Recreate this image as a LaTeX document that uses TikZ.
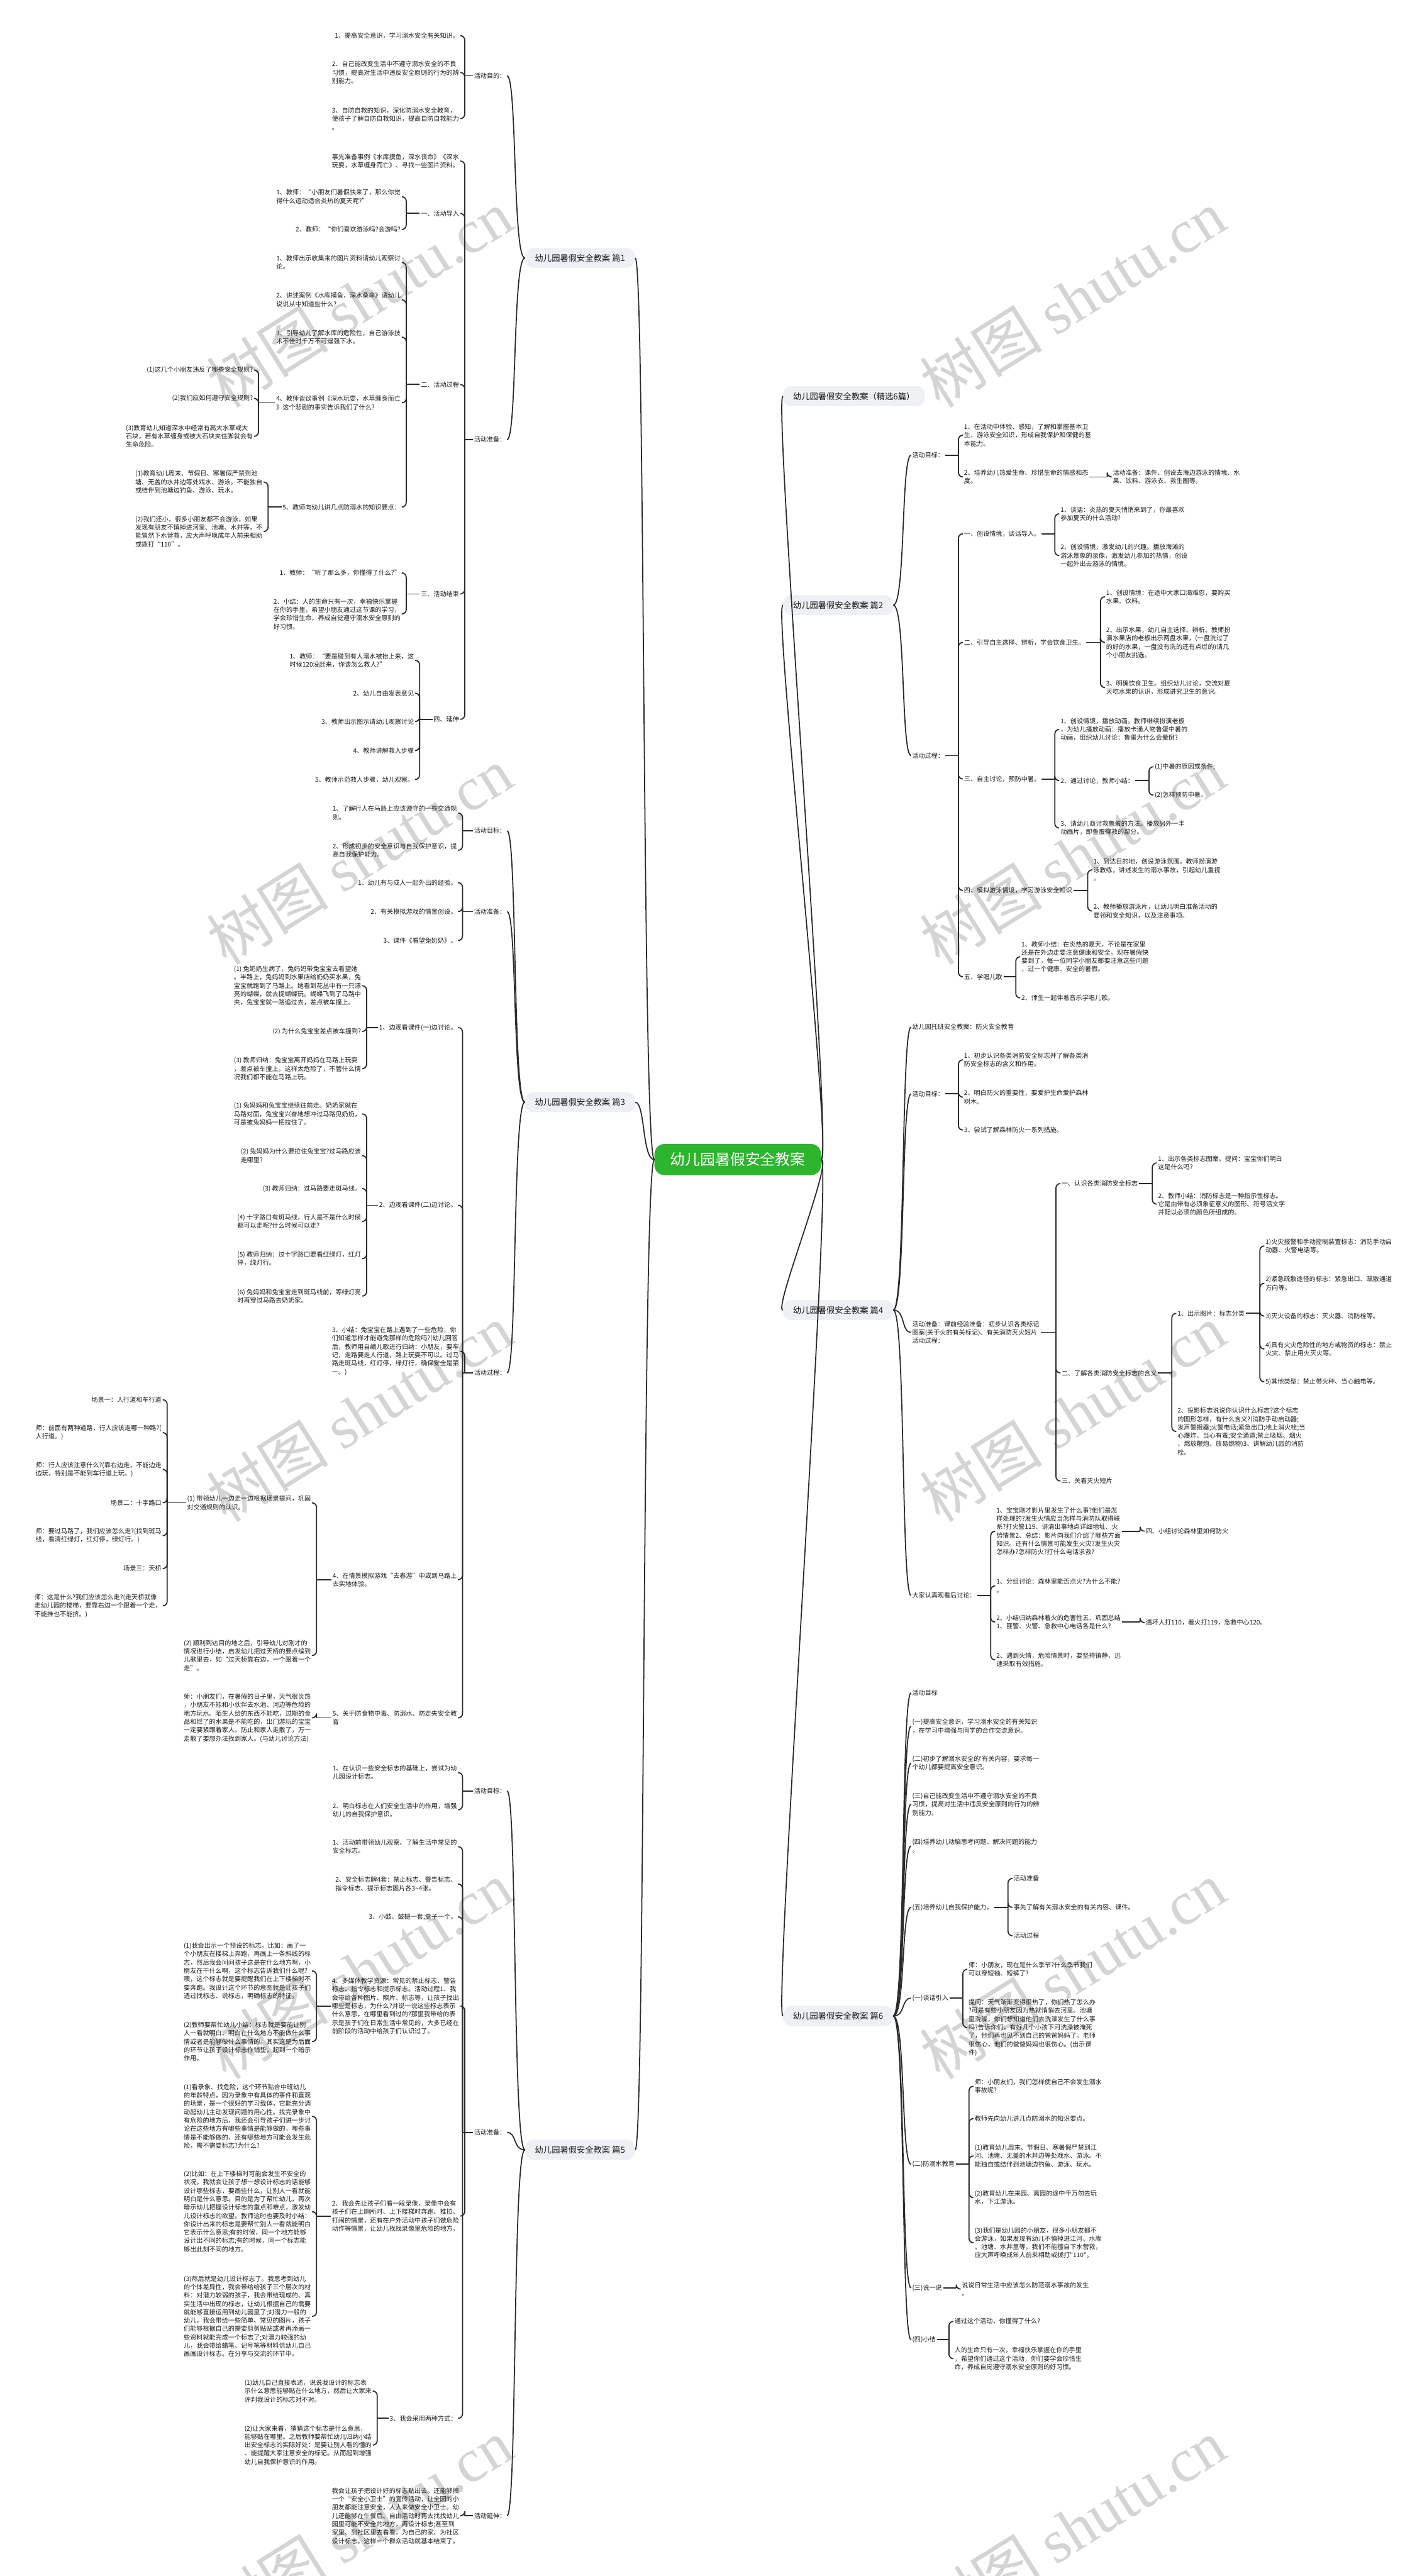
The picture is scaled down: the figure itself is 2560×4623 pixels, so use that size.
\documentclass[tikz,border=0pt]{standalone}
\usepackage{fontspec}
\newfontfamily\cjk{Noto Sans CJK SC}
\newfontfamily\wmlat{Liberation Serif}
\usetikzlibrary{calc}
\definecolor{lvone}{HTML}{EEF0F3}
\definecolor{rootg}{HTML}{2EB52E}
\definecolor{ln}{HTML}{2B2B2B}
\tikzset{
  txt/.style={font=\cjk\fontsize{11.4}{15}\selectfont, align=left, inner sep=2pt, text=black!90},
  L/.style={txt, anchor=east},
  R/.style={txt, anchor=west},
  lvl/.style={font=\cjk\fontsize{15}{18}\selectfont, fill=lvone, rounded corners=15pt, inner xsep=18pt, inner ysep=0pt, minimum height=36pt, text=black!90},
  lvlL/.style={lvl, anchor=east},
  lvlR/.style={lvl, anchor=west},
  root/.style={font=\cjk\fontsize{27}{30}\selectfont, fill=rootg, text=white, rounded corners=18pt, inner xsep=28pt, inner ysep=0pt, minimum height=56pt},
  conn/.style={draw=ln, line width=2pt},
  wm/.style={rotate=32, text=black!17, font=\cjk\fontsize{110}{120}\selectfont, inner sep=0pt}
}
\newcommand\BL[2]{\foreach \c in {#2}{%
  \path let \p1=(#1.west), \p2=(\c.east) in (\x2+8pt,\y1) coordinate (bls);
  \draw[conn] (#1.west) -- (bls);
  \draw[conn,rounded corners=8pt] (bls) |- (\c.east);}}
\newcommand\BR[2]{\foreach \c in {#2}{%
  \path let \p1=(#1.east), \p2=(\c.west) in (\x2-8pt,\y1) coordinate (brs);
  \draw[conn] (#1.east) -- (brs);
  \draw[conn,rounded corners=8pt] (brs) |- (\c.west);}}
\newcommand\CL[2]{\foreach \c in {#2}{%
  \draw[conn] (#1.west) .. controls ($(#1.west)+(-22,0)$) and ($(\c.east)+(18,0)$) .. (\c.east);}}
\newcommand\CR[2]{\foreach \c in {#2}{%
  \draw[conn] (#1.east) .. controls ($(#1.east)+(22,0)$) and ($(\c.west)+(-18,0)$) .. (\c.west);}}
\begin{document}
\begin{tikzpicture}[x=1pt,y=-1pt]
\fill[white] (0,0) rectangle (2560,4623);
\path[use as bounding box] (0,0) rectangle (2560,4623);
% watermarks
\foreach \yy in {536,1536,2536,3536,4536}{
  \node[wm] at (645,\yy) {树图 {\wmlat shutu.cn}};
  \node[wm] at (1925,\yy) {树图 {\wmlat shutu.cn}};
}
% root and level 1
\node[root] (root) at (1324,2081) {幼儿园暑假安全教案};
\node[lvlL] (P1) at (1140,463) {幼儿园暑假安全教案 篇1};
\node[lvlL] (P3) at (1140,1978) {幼儿园暑假安全教案 篇3};
\node[lvlL] (P5) at (1140,3858) {幼儿园暑假安全教案 篇5};
\node[lvlR] (P0) at (1405,711) {幼儿园暑假安全教案（精选6篇）};
\node[lvlR] (P2) at (1405,1086) {幼儿园暑假安全教案 篇2};
\node[lvlR] (P4) at (1405,2351) {幼儿园暑假安全教案 篇4};
\node[lvlR] (P6) at (1405,3618) {幼儿园暑假安全教案 篇6};
\CL{root}{P1,P3,P5}
\CR{root}{P0,P2,P4,P6}

% ================= 篇1 =================
\node[L] (a1) at (910,136) {活动目的：};
\node[L] (a2) at (910,789) {活动准备：};
\CL{P1}{a1,a2}
\node[L] (a1a) at (826,64) {1、提高安全意识，学习溺水安全有关知识。};
\node[L] (a1b) at (826,130) {2、自己能改变生活中不遵守溺水安全的不良\\习惯，提高对生活中违反安全原则的行为的辨\\别能力。};
\node[L] (a1c) at (826,213) {3、自防自救的知识，深化防溺水安全教育，\\使孩子了解自防自救知识，提高自防自救能力\\。};
\BL{a1}{a1a,a1b,a1c}
\node[L] (d1) at (826,289) {事先准备事例《水库摸鱼，深水丧命》《深水\\玩耍，水草缠身而亡》、寻找一些图片资料。};
\node[L] (d2) at (826,383) {一、活动导入};
\node[L] (d3) at (826,690) {二、活动过程};
\node[L] (d4) at (826,1066) {三、活动结束};
\node[L] (d5) at (826,1291) {四、延伸};
\BL{a2}{d1,d2,d3,d4,d5}
\node[L] (d2a) at (721,353) {1、教师：“小朋友们暑假快来了，那么你觉\\得什么运动适合炎热的夏天呢?”};
\node[L] (d2b) at (721,412) {2、教师：“你们喜欢游泳吗?会游吗?};
\BL{d2}{d2a,d2b}
\node[L] (d3a) at (721,471) {1、教师出示收集来的图片资料请幼儿观察讨\\论。};
\node[L] (d3b) at (721,538) {2、讲述案例《水库摸鱼，深水桑命》请幼儿\\说说从中知道些什么?};
\node[L] (d3c) at (721,605) {3、引导幼儿了解水库的危险性，自己游泳技\\术不佳时千万不可逞强下水。};
\node[L] (d3d) at (721,723) {4、教师谈谈事例《深水玩耍，水草缠身而亡\\》这个悲剧的事实告诉我们了什么?};
\node[L] (d3e) at (721,910) {5、教师向幼儿讲几点防溺水的知识要点：};
\BL{d3}{d3a,d3b,d3c,d3d,d3e}
\node[L] (d3d1) at (456,664) {(1)这几个小朋友违反了哪些安全规则?};
\node[L] (d3d2) at (456,715) {(2)我们应如何遵守安全规则?};
\node[L] (d3d3) at (456,783) {(3)教育幼儿知道深水中经常有高大水草或大\\石块，若有水草缠身或被大石块夹住脚就会有\\生命危险。};
\BL{d3d}{d3d1,d3d2,d3d3}
\node[L] (d3e1) at (473,865) {(1)教育幼儿周末、节假日、寒暑假严禁到池\\塘、无盖的水井边等处戏水、游泳。不能独自\\或结伴到池塘边钓鱼、游泳、玩水。};
\node[L] (d3e2) at (473,954) {(2)我们还小，很多小朋友都不会游泳，如果\\发现有朋友不慎掉进河里、池塘、水井等，不\\能冒然下水营救，应大声呼唤成年人前来相助\\或拨打“110”。};
\BL{d3e}{d3e1,d3e2}
\node[L] (d4a) at (721,1028) {1、教师：“听了那么多，你懂得了什么?”};
\node[L] (d4b) at (721,1102) {2、小结：人的生命只有一次，幸福快乐掌握\\在你的手里，希望小朋友通过这节课的学习，\\学会珍惜生命，养成自觉遵守溺水安全原则的\\好习惯。};
\BL{d4}{d4a,d4b}
\node[L] (d5a) at (745,1185) {1、教师：“要是碰到有人溺水被抬上来，这\\时候120没赶来，你该怎么救人?”};
\node[L] (d5b) at (745,1244) {2、幼儿自由发表意见};
\node[L] (d5c) at (745,1295) {3、教师出示图示请幼儿观察讨论};
\node[L] (d5d) at (745,1347) {4、教师讲解救人步骤};
\node[L] (d5e) at (745,1399) {5、教师示范救人步骤，幼儿观察。};
\BL{d5}{d5a,d5b,d5c,d5d,d5e}

% ================= 篇3 =================
\node[L] (q1) at (910,1491) {活动目标：};
\node[L] (q2) at (910,1636) {活动准备：};
\node[L] (q3) at (910,2464) {活动过程：};
\CL{P3}{q1,q2,q3}
\node[L] (q1a) at (822,1459) {1、了解行人在马路上应该遵守的一些交通规\\则。};
\node[L] (q1b) at (822,1526) {2、形成初步的安全意识与自我保护意识，提\\高自我保护能力。};
\BL{q1}{q1a,q1b}
\node[L] (q2a) at (822,1584) {1、幼儿有与成人一起外出的经验。};
\node[L] (q2b) at (822,1636) {2、有关模拟游戏的情景创设。};
\node[L] (q2c) at (822,1688) {3、课件《看望兔奶奶》。};
\BL{q2}{q2a,q2b,q2c}
\node[L] (q3a) at (822,1844) {1、边观看课件(一)边讨论。};
\node[L] (q3b) at (822,2163) {2、边观看课件(二)边讨论。};
\node[L] (q3c) at (826,2425) {3、小结：兔宝宝在路上遇到了一些危险，你\\们知道怎样才能避免那样的危险吗?(幼儿回答\\后，教师用自编儿歌进行归纳：小朋友，要牢\\记，走路要走人行道，路上玩耍不可以。过马\\路走斑马线，红灯停，绿灯行，确保安全是第\\一。)};
\node[L] (q3d) at (822,2835) {4、在情景模拟游戏“去春游”中或到马路上\\去实地体验。};
\node[L] (q3e) at (822,3083) {5、关于防食物中毒、防溺水、防走失安全教\\育};
\BL{q3}{q3a,q3b,q3c,q3d,q3e}
\node[L] (q3a1) at (650,1769) {(1) 兔奶奶生病了，兔妈妈带兔宝宝去看望她\\。半路上，兔妈妈到水果店给奶奶买水果，兔\\宝宝就跑到了马路上。她看到花丛中有一只漂\\亮的蝴蝶，就去捉蝴蝶玩。蝴蝶飞到了马路中\\央，兔宝宝就一路追过去，差点被车撞上。};
\node[L] (q3a2) at (650,1851) {(2) 为什么兔宝宝差点被车撞到?};
\node[L] (q3a3) at (650,1918) {(3) 教师归纳：兔宝宝离开妈妈在马路上玩耍\\，差点被车撞上。这样太危险了，不管什么情\\况我们都不能在马路上玩。};
\BL{q3a}{q3a1,q3a2,q3a3}
\node[L] (q3b1) at (650,1999) {(1) 兔妈妈和兔宝宝继续往前走。奶奶家就在\\马路对面，兔宝宝兴奋地想冲过马路见奶奶，\\可是被兔妈妈一把拉住了。};
\node[L] (q3b2) at (650,2074) {(2) 兔妈妈为什么要拉住兔宝宝?过马路应该\\走哪里?};
\node[L] (q3b3) at (650,2133) {(3) 教师归纳：过马路要走斑马线。};
\node[L] (q3b4) at (650,2192) {(4) 十字路口有斑马线，行人是不是什么时候\\都可以走呢?什么时候可以走?};
\node[L] (q3b5) at (650,2259) {(5) 教师归纳：过十字路口要看红绿灯，红灯\\停，绿灯行。};
\node[L] (q3b6) at (650,2326) {(6) 兔妈妈和兔宝宝走到斑马线前，等绿灯亮\\时再穿过马路去奶奶家。};
\BL{q3b}{q3b1,q3b2,q3b3,q3b4,q3b5,q3b6}
\node[L] (q3d1) at (560,2697) {(1) 带领幼儿一边走一边根据场景提问，巩固\\对交通规则的认识。};
\node[L] (q3d2) at (560,2971) {(2) 顺利到达目的地之后，引导幼儿对刚才的\\情况进行小结，启发幼儿把过天桥的要点编到\\儿歌里去，如“过天桥靠右边，一个跟着一个\\走”。};
\BL{q3d}{q3d1,q3d2}
\node[L] (s1) at (292,2512) {场景一：人行道和车行道};
\node[L] (s2) at (292,2571) {师：前面有两种道路，行人应该走哪一种路?(\\人行道。)};
\node[L] (s3) at (292,2637) {师：行人应该注意什么?(靠右边走，不能边走\\边玩，特别是不能到车行道上玩。)};
\node[L] (s4) at (292,2697) {场景二：十字路口};
\node[L] (s5) at (292,2756) {师：要过马路了，我们应该怎么走?(找到斑马\\线，看清红绿灯，红灯停，绿灯行。)};
\node[L] (s6) at (292,2815) {场景三：天桥};
\node[L] (s7) at (292,2882) {师：这是什么?我们应该怎么走?(走天桥就像\\走幼儿园的楼梯，要靠右边一个跟着一个走，\\不能推也不能挤。)};
\BL{q3d1}{s1,s2,s3,s4,s5,s6,s7}
\node[L] (q3e1) at (560,3083) {师：小朋友们，在暑假的日子里，天气很炎热\\，小朋友不能和小伙伴去水池、河边等危险的\\地方玩水。陌生人给的东西不能吃，过期的食\\品和烂了的水果是不能吃的，出门游玩的宝宝\\一定要紧跟着家人。防止和家人走散了，万一\\走散了要想办法找到家人。(与幼儿讨论方法)};
\BL{q3e}{q3e1}

% ================= 篇5 =================
\node[L] (r1) at (910,3214) {活动目标：};
\node[L] (r2) at (910,3827) {活动准备：};
\node[L] (r3) at (910,4515) {活动延伸：};
\CL{P5}{r1,r2,r3}
\node[L] (r1a) at (822,3181) {1、在认识一些安全标志的基础上，尝试为幼\\儿园设计标志。};
\node[L] (r1b) at (822,3248) {2、明白标志在人们安全生活中的作用，增强\\幼儿的自我保护意识。};
\BL{r1}{r1a,r1b}
\node[L] (r2a) at (822,3314) {1、活动前带领幼儿观察、了解生活中常见的\\安全标志。};
\node[L] (r2b) at (822,3381) {2、安全标志牌4套：禁止标志、警告标志、\\指令标志、提示标志图片各3\textasciitilde4张。};
\node[L] (r2c) at (822,3440) {3、小鼓、鼓槌一套;盒子一个。};
\node[L] (r2d) at (826,3600) {4、多媒体教学资源：常见的禁止标志、警告\\标志、指令标志和提示标志。活动过程1、我\\会带给各种图片、照片、标志等，让孩子找出\\哪些是标志，为什么?并说一说这些标志表示\\什么意思，在哪里看到过的?那里我带给的表\\示是孩子们在日常生活中常见的，大多已经在\\前阶段的活动中给孩子们认识过了。};
\node[L] (r2e) at (826,3977) {2、我会先让孩子们看一段录像，录像中会有\\孩子们在上厕所时、上下楼梯时奔跑、推拉、\\打闹的情景，还有在户外活动中孩子们做危险\\动作等情景，让幼儿找找录像里危险的地方。};
\node[L] (r2f) at (822,4340) {3、我会采用两种方式：};
\BL{r2}{r2a,r2b,r2c,r2d,r2e,r2f}
\node[L] (r2d1) at (560,3537) {(1)我会出示一个预设的标志，比如：画了一\\个小朋友在楼梯上奔跑，再画上一条斜线的标\\志，然后我会问问孩子这是在什么地方啊，小\\朋友在干什么啊，这个标志告诉我们什么呢?\\噢，这个标志就是要提醒我们在上下楼梯时不\\要奔跑。我设计这个环节的意图就是让孩子们\\透过找标志、说标志，明确标志的特征。};
\node[L] (r2d2) at (560,3664) {(2)教师要帮忙幼儿小结：标志就是要能让别\\人一看就明白、明白在什么地方不能做什么事\\情或者是能够做什么事情的。其实这是为后面\\的环节让孩子设计标志作铺垫，起到一个暗示\\作用。};
\BL{r2d}{r2d1,r2d2}
\node[L] (r2e1) at (560,3798) {(1)看录象、找危险，这个环节贴合中班幼儿\\的年龄特点，因为录象中有具体的事件和直观\\的场景，是一个很好的学习载体，它能充分调\\动起幼儿主动发现问题的用心性。找完录象中\\有危险的地方后，我还会引导孩子们进一步讨\\论在这些地方有哪些事情是能够做的，哪些事\\情是不能够做的，还有哪些地方可能会发生危\\险，需不需要标志?为什么?};
\node[L] (r2e2) at (560,3969) {(2)比如：在上下楼梯时可能会发生不安全的\\状况，我就会让孩子想一想设计标志的话能够\\设计哪些标志，要画些什么，让别人一看就能\\明白是什么意思。目的是为了帮忙幼儿，再次\\暗示幼儿把握设计标志的重点和难点，激发幼\\儿设计标志的欲望。教师这时也要及时小结：\\你设计出来的标志是要帮忙别人一看就能明白\\它表示什么意思;有的时候，同一个地方能够\\设计出不同的标志;有的时候，同一个标志能\\够出此刻不同的地方。};
\node[L] (r2e3) at (560,4157) {(3)然后就是幼儿设计标志了。我思考到幼儿\\的个体差异性，我会带给给孩子三个层次的材\\料：对潜力较弱的孩子，我会带给现成的、真\\实生活中出现的标志，让幼儿根据自己的需要\\就能够直接运用到幼儿园里了;对潜力一般的\\幼儿，我会带给一些简单、常见的图片，孩子\\们能够根据自己的需要剪剪贴贴或者再添画一\\些资料就能完成一个标志了;对潜力较强的幼\\儿，我会带给蜡笔、记号笔等材料供幼儿自己\\画画设计标志。在分享与交流的环节中。};
\BL{r2e}{r2e1,r2e2,r2e3}
\node[L] (r2f1) at (669,4291) {(1)幼儿自己直接表述，说说我设计的标志表\\示什么意思能够贴在什么地方，然后让大家来\\评判我设计的标志对不对。};
\node[L] (r2f2) at (669,4388) {(2)让大家来看，猜猜这个标志是什么意思，\\能够贴在哪里。之后教师要帮忙幼儿归纳小结\\出安全标志的实际好处：是要让别人看的懂的\\、能提醒大家注意安全的标记。从而起到增强\\幼儿自我保护意识的作用。};
\BL{r2f}{r2f1,r2f2}
\node[L] (r3a) at (826,4515) {我会让孩子把设计好的标志贴出去。还能够搞\\一个“安全小卫士”的宣传活动，让全园的小\\朋友都能注意安全，人人来做安全小卫士。幼\\儿还能够在午餐后、自由活动时再去找找幼儿\\园里可能不安全的地方，再设计标志;甚至到\\家里、到社区里去看看，为自己的家、为社区\\设计标志。这样一个群众活动就基本结束了。};
\BL{r3}{r3a}

% ================= 篇2 =================
\node[R] (b1) at (1635,817) {活动目标：};
\node[R] (b2) at (1635,1356) {活动过程：};
\CR{P2}{b1,b2}
\node[R] (b1a) at (1728,781) {1、在活动中体验、感知，了解和掌握基本卫\\生、游泳安全知识，形成自我保护和保健的基\\本能力。};
\node[R] (b1b) at (1728,856) {2、培养幼儿热爱生命、珍惜生命的情感和态\\度。};
\BR{b1}{b1a,b1b}
\node[R] (b1b1) at (1995,856) {活动准备：课件、创设去海边游泳的情境、水\\果、饮料、游泳衣、救生圈等。};
\BR{b1b}{b1b1}
\node[R] (e1) at (1728,958) {一、创设情境，谈话导入。};
\node[R] (e2) at (1728,1153) {二、引导自主选择、辨析，学会饮食卫生。};
\node[R] (e3) at (1728,1398) {三、自主讨论，预防中暑。};
\node[R] (e4) at (1728,1598) {四、模拟游泳情境，学习游泳安全知识};
\node[R] (e5) at (1728,1753) {五、学唱儿歌};
\BR{b2}{e1,e2,e3,e4,e5}
\node[R] (e1a) at (1901,922) {1、谈话：炎热的夏天悄悄来到了，你最喜欢\\参加夏天的什么活动?};
\node[R] (e1b) at (1901,997) {2、创设情境，激发幼儿的兴趣。播放海滩的\\游泳景象的录像，激发幼儿参加的热情，创设\\一起外出去游泳的情境。};
\BR{e1}{e1a,e1b}
\node[R] (e2a) at (1983,1071) {1、创设情境：在途中大家口渴难忍，要购买\\水果、饮料。};
\node[R] (e2b) at (1983,1153) {2、出示水果，幼儿自主选择、辨析。教师扮\\演水果店的老板出示两盘水果，(一盘洗过了\\的好的水果，一盘没有洗的还有点烂的)请几\\个小朋友挑选。};
\node[R] (e2c) at (1983,1234) {3、明确饮食卫生。组织幼儿讨论，交流对夏\\天吃水果的认识，形成讲究卫生的意识。};
\BR{e2}{e2a,e2b,e2c}
\node[R] (e3a) at (1901,1309) {1、创设情境，播放动画。教师继续扮演老板\\，为幼儿播放动画：播放卡通人物鲁蛋中暑的\\动画，组织幼儿讨论：鲁蛋为什么会晕倒?};
\node[R] (e3b) at (1901,1401) {2、通过讨论，教师小结：};
\node[R] (e3c) at (1901,1486) {3、请幼儿商讨救鲁蛋的方法。播放另外一半\\动画片，即鲁蛋得救的部分。};
\BR{e3}{e3a,e3b,e3c}
\node[R] (e3b1) at (2070,1376) {(1)中暑的原因或条件;};
\node[R] (e3b2) at (2070,1427) {(2)怎样预防中暑。};
\BR{e3b}{e3b1,e3b2}
\node[R] (e4a) at (1960,1561) {1、到达目的地，创设游泳氛围。教师扮演游\\泳教练，讲述发生的溺水事故，引起幼儿重视\\。};
\node[R] (e4b) at (1960,1635) {2、教师播放游泳片，让幼儿明白准备活动的\\要领和安全知识，以及注意事项。};
\BR{e4}{e4a,e4b}
\node[R] (e5a) at (1831,1717) {1、教师小结：在炎热的夏天，不论是在家里\\还是在外边走要注意健康和安全，现在暑假快\\要到了，每一位同学小朋友都要注意这些问题\\，过一个健康、安全的暑假。};
\node[R] (e5b) at (1831,1791) {2、师生一起伴着音乐学唱儿歌。};
\BR{e5}{e5a,e5b}

% ================= 篇4 =================
\node[R] (t1) at (1635,1843) {幼儿园托班安全教案：防火安全教育};
\node[R] (t2) at (1635,1963) {活动目标：};
\node[R] (t3) at (1635,2391) {活动准备：课前经验准备：初步认识各类标记\\图案(关于火的有关标记)、有关消防灭火短片\\活动过程：};
\node[R] (t4) at (1635,2863) {大家认真观看后讨论：};
\CR{P4}{t1,t2,t3,t4}
\node[R] (t2a) at (1728,1902) {1、初步认识各类消防安全标志并了解各类消\\防安全标志的含义和作用。};
\node[R] (t2b) at (1728,1969) {2、明白防火的重要性，要爱护生命爱护森林\\树木。};
\node[R] (t2c) at (1728,2028) {3、尝试了解森林防火一系列措施。};
\BR{t2}{t2a,t2b,t2c}
\node[R] (f1) at (1903,2124) {一、认识各类消防安全标志};
\node[R] (f2) at (1903,2464) {二、了解各类消防安全标志的含义};
\node[R] (f3) at (1903,2658) {三、关看灭火短片};
\BR{t3}{f1,f2,f3}
\node[R] (f1a) at (2076,2087) {1、出示各类标志图案。提问：宝宝你们明白\\这是什么吗?};
\node[R] (f1b) at (2076,2161) {2、教师小结：消防标志是一种指示性标志。\\它是由带有必须象征意义的图形、符号活文字\\并配以必须的颜色所组成的。};
\BR{f1}{f1a,f1b}
\node[R] (f2a) at (2111,2357) {1、出示图片：标志分类};
\node[R] (f2b) at (2111,2569) {2、投影标志说说你认识什么标志?这个标志\\的图形怎样，有什么含义?(消防手动启动器;\\发声警报器;火警电话;紧急出口;地上消火栓;当\\心爆炸、当心有毒;安全通道;禁止吸烟、烟火\\、燃放鞭炮、放易燃物)3、讲解幼儿园的消防\\栓。};
\BR{f2}{f2a,f2b}
\node[R] (g1) at (2269,2236) {1)火灾报警和手动控制装置标志：消防手动启\\动器、火警电话等。};
\node[R] (g2) at (2269,2303) {2)紧急疏散途径的标志：紧急出口、疏散通道\\方向等。};
\node[R] (g3) at (2269,2362) {3)灭火设备的标志：灭火器、消防栓等。};
\node[R] (g4) at (2269,2421) {4)具有火灾危险性的地方或物资的标志：禁止\\火灾、禁止用火灭火等。};
\node[R] (g5) at (2269,2480) {5)其他类型：禁止带火种、当心触电等。};
\BR{f2a}{g1,g2,g3,g4,g5}
\node[R] (t4a) at (1786,2748) {1、宝宝刚才影片里发生了什么事?他们是怎\\样处理的?发生火情应当怎样与消防队取得联\\系?打火警119、讲清出事地点详细地址、火\\势情景2、总结：影片向我们介绍了哪些方面\\知识。还有什么情景可能发生火灾?发生火灾\\怎样办?怎样防火?打什么电话求救?};
\node[R] (t4b) at (1786,2846) {1、分组讨论：森林里能否点火?为什么不能?\\。};
\node[R] (t4c) at (1786,2911) {2、小结归纳森林着火的危害性五、巩固总结\\1、匪警、火警、急救中心电话各是什么?};
\node[R] (t4d) at (1786,2979) {2、遇到火情，危险情景时，要坚持镇静，迅\\速采取有效措施。};
\BR{t4}{t4a,t4b,t4c,t4d}
\node[R] (t4a1) at (2054,2748) {四、小组讨论森林里如何防火};
\BR{t4a}{t4a1}
\node[R] (t4c1) at (2054,2912) {遇坏人打110，着火打119，急救中心120。};
\BR{t4c}{t4c1}

% ================= 篇6 =================
\node[R] (u1) at (1635,3038) {活动目标};
\node[R] (u2) at (1635,3098) {(一)提高安全意识，学习溺水安全的有关知识\\，在学习中增强与同学的合作交流意识。};
\node[R] (u3) at (1635,3164) {(二)初步了解溺水安全的'有关内容，要求每一\\个幼儿都要提高安全意识。};
\node[R] (u4) at (1635,3238) {(三)自己能改变生活中不遵守溺水安全的不良\\习惯，提高对生活中违反安全原则的行为的辨\\别能力。};
\node[R] (u5) at (1635,3313) {(四)培养幼儿动脑思考问题、解决问题的能力\\。};
\node[R] (u6) at (1635,3423) {(五)培养幼儿自我保护能力。};
\node[R] (u7) at (1635,3586) {(一)谈话引入};
\node[R] (u8) at (1635,3884) {(二)防溺水教育};
\node[R] (u9) at (1635,4106) {(三)说一说};
\node[R] (u10) at (1635,4199) {(四)小结};
\CR{P6}{u1,u2,u3,u4,u5,u6,u7,u8,u9,u10}
\node[R] (u6a) at (1817,3371) {活动准备};
\node[R] (u6b) at (1817,3423) {事先了解有关溺水安全的有关内容、课件。};
\node[R] (u6c) at (1817,3474) {活动过程};
\BR{u6}{u6a,u6b,u6c}
\node[R] (u7a) at (1736,3534) {师：小朋友，现在是什么季节?什么季节我们\\可以穿短袖、短裤了?};
\node[R] (u7b) at (1736,3639) {提问：天气渐渐变得很热了，你们热了怎么办\\?可是有些小朋友因为热就悄悄去河里、池塘\\里洗澡，你们想知道他们去洗澡发生了什么事\\吗?告诉你们，有好几个小孩下河洗澡被淹死\\了，他们再也见不到自己的爸爸妈妈了。老师\\很伤心，他们的爸爸妈妈也很伤心。(出示课\\件)};
\BR{u7}{u7a,u7b}
\node[R] (u8a) at (1747,3744) {师：小朋友们，我们怎样使自己不会发生溺水\\事故呢?};
\node[R] (u8b) at (1747,3802) {教师先向幼儿讲几点防溺水的知识要点。};
\node[R] (u8c) at (1747,3869) {(1)教育幼儿周末、节假日、寒暑假严禁到江\\河、池塘、无盖的水井边等处戏水、游泳。不\\能独自或结伴到池塘边钓鱼、游泳、玩水。};
\node[R] (u8d) at (1747,3944) {(2)教育幼儿在来园、离园的途中千万勿去玩\\水，下江游泳。};
\node[R] (u8e) at (1747,4025) {(3)我们是幼儿园的小朋友，很多小朋友都不\\会游泳，如果发现有幼儿不慎掉进江河、水库\\、池塘、水井里等，我们不能擅自下水营救，\\应大声呼唤成年人前来相助或拨打"110"。};
\BR{u8}{u8a,u8b,u8c,u8d,u8e}
\node[R] (u9a) at (1724,4108) {说说日常生活中应该怎么防范溺水事故的发生\\。};
\BR{u9}{u9a}
\node[R] (u10a) at (1711,4166) {通过这个活动，你懂得了什么?};
\node[R] (u10b) at (1711,4233) {人的生命只有一次，幸福快乐掌握在你的手里\\，希望你们通过这个活动，你们要学会珍惜生\\命，养成自觉遵守溺水安全原则的好习惯。};
\BR{u10}{u10a,u10b}
\end{tikzpicture}
\end{document}
